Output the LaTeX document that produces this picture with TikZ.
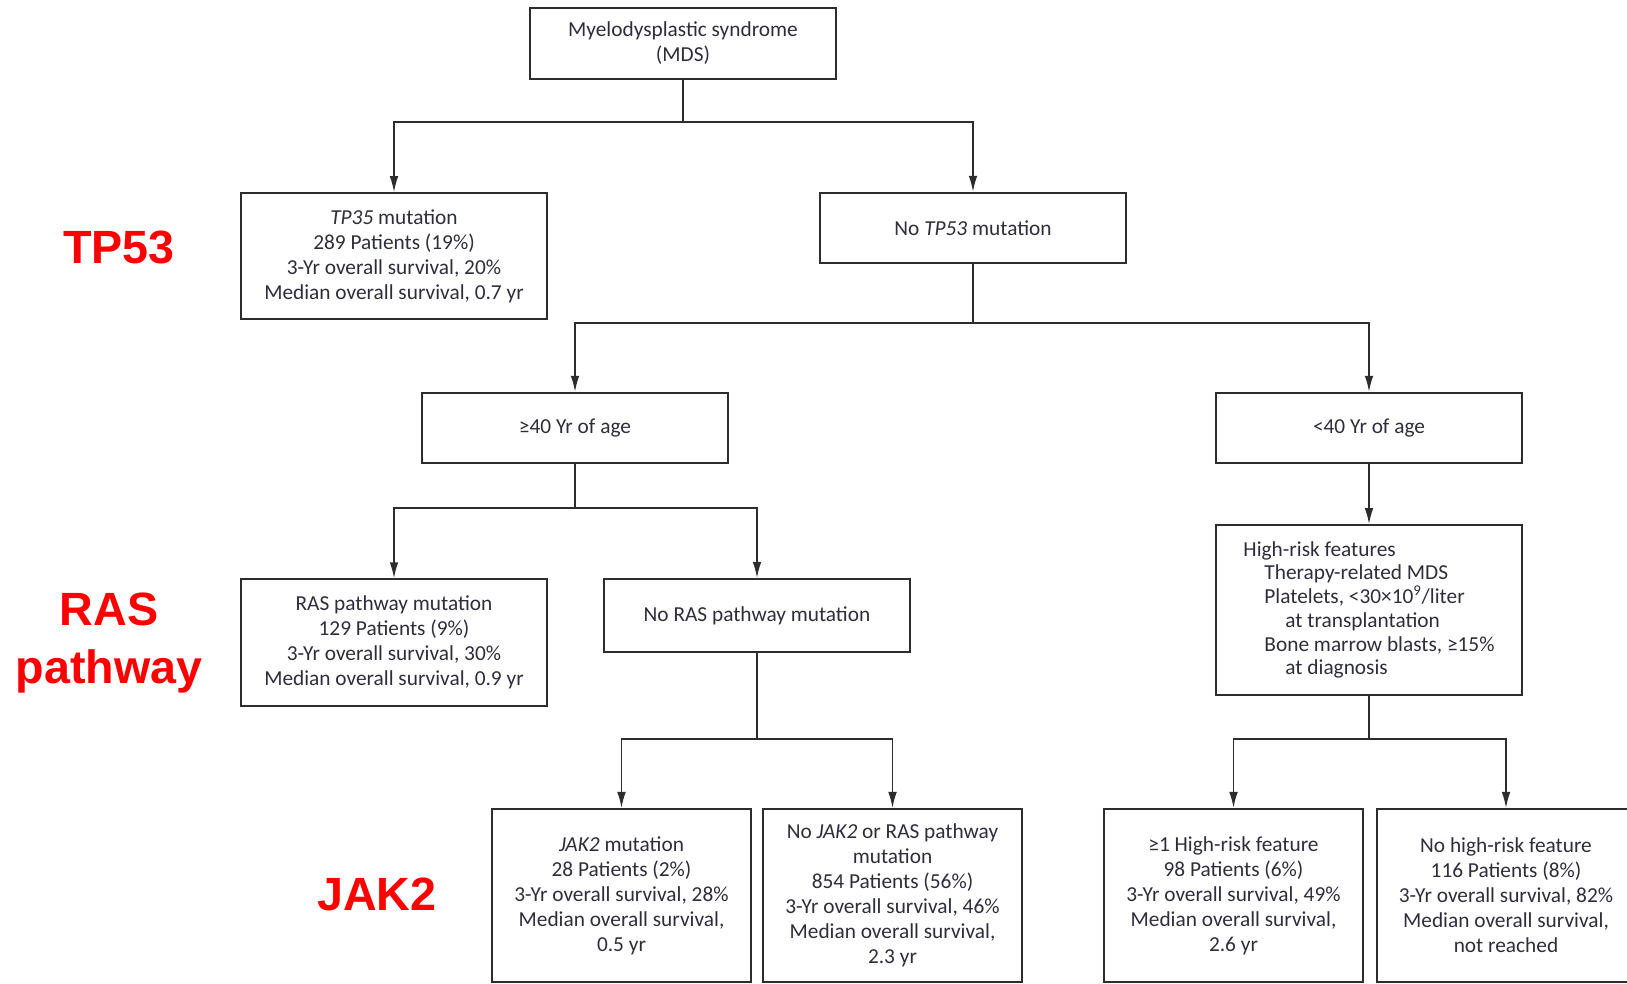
\documentclass[tikz,border=0pt]{standalone}
\usepackage{fontspec}
\setmainfont{Carlito}
\newfontfamily\labelfont{Liberation Sans}
\usetikzlibrary{arrows.meta}

\definecolor{boxline}{RGB}{45,45,45}
\definecolor{boxtext}{RGB}{45,45,60}
\definecolor{tagred}{RGB}{255,0,0}

\tikzset{
  box/.style={draw=boxline, line width=1.3pt, align=center, inner sep=0pt, text=boxtext,
    minimum width=229.5pt, minimum height=53pt, font=\fontsize{16pt}{18.75pt}\selectfont},
  leafbox/.style={box, minimum width=194pt, minimum height=130pt},
  tag/.style={text=tagred, align=center, font=\labelfont\bfseries\fontsize{35pt}{43pt}\selectfont},
  link/.style={draw=boxline, line width=1.2pt},
  arr/.style={link, -{Latex[length=12pt,width=6.5pt]}}
}

\begin{document}
\begin{tikzpicture}[x=0.75pt,y=0.75pt,yscale=-1,xscale=1]
\useasboundingbox (0,0) rectangle (1627,983);

%Shape: Rectangle [top]
\node (mds) at (683,43.5) [box] {Myelodysplastic syndrome\\(MDS)};
%Shape: Rectangle [first split]
\node (tpyes) at (394,256) [box, minimum height=94.5pt] {\textit{TP35} mutation\\289 Patients (19\%)\\3-Yr overall survival, 20\%\\Median overall survival, 0.7 yr};
\node (tpno) at (973,228) [box] {No \textit{TP53} mutation};
%Shape: Rectangle [age split]
\node (old) at (575,428) [box] {≥40 Yr of age};
\node (young) at (1369,428) [box] {<40 Yr of age};
%Shape: Rectangle [RAS split]
\node (rasyes) at (394,642.5) [box, minimum height=95pt] {RAS pathway mutation\\129 Patients (9\%)\\3-Yr overall survival, 30\%\\Median overall survival, 0.9 yr};
\node (rasno) at (757,615.5) [box, minimum height=55pt] {No RAS pathway mutation};
%Shape: Rectangle [high-risk list]
\node (risk) at (1369,610) [box, minimum height=127.5pt, align=left, font=\fontsize{16pt}{17.8pt}\selectfont]
  {High-risk features\\
   \hspace*{15.75pt}Therapy-related MDS\\
   \hspace*{15.75pt}Platelets, <30×10\textsuperscript{9}/liter\\
   \hspace*{31.5pt}at transplantation\\
   \hspace*{15.75pt}Bone marrow blasts, ≥15\%\\
   \hspace*{31.5pt}at diagnosis};
%Shape: Rectangle [leaves]
\node (jakyes) at (621.5,895.5) [leafbox] {\textit{JAK2} mutation\\28 Patients (2\%)\\3-Yr overall survival, 28\%\\Median overall survival,\\0.5 yr};
\node (jakno) at (892.5,895.5) [leafbox] {No \textit{JAK2} or RAS pathway\\mutation\\854 Patients (56\%)\\3-Yr overall survival, 46\%\\Median overall survival,\\2.3 yr};
\node (riskyes) at (1233.5,895.5) [leafbox] {≥1 High-risk feature\\98 Patients (6\%)\\3-Yr overall survival, 49\%\\Median overall survival,\\2.6 yr};
\node (riskno) at (1506,895.5) [leafbox] {No high-risk feature\\116 Patients (8\%)\\3-Yr overall survival, 82\%\\Median overall survival,\\not reached};

% Text Node [gene tags]
\node (tagtp) at (119,247) [tag] {TP53};
\node (tagras) at (109,643) [tag] {RAS\\pathway};
\node (tagjak) at (377,894) [tag] {JAK2};

%Straight Lines [branch points]
\coordinate (splitmds) at (683,122);
\coordinate (splittp) at (973,323);
\coordinate (splitage) at (575,508);
\coordinate (splitras) at (757,739);
\coordinate (splitrisk) at (1369,739);

\draw [link] (mds.south) -- (splitmds);
\draw [arr] (splitmds) -| (tpyes.north);
\draw [arr] (splitmds) -| (tpno.north);

\draw [link] (tpno.south) -- (splittp);
\draw [arr] (splittp) -| (old.north);
\draw [arr] (splittp) -| (young.north);

\draw [link] (old.south) -- (splitage);
\draw [arr] (splitage) -| (rasyes.north);
\draw [arr] (splitage) -| (rasno.north);

\draw [arr] (young.south) -- (risk.north);

\draw [link] (rasno.south) -- (splitras);
\draw [arr] (splitras) -| (jakyes.north);
\draw [arr] (splitras) -| (jakno.north);

\draw [link] (risk.south) -- (splitrisk);
\draw [arr] (splitrisk) -| (riskyes.north);
\draw [arr] (splitrisk) -| (riskno.north);

\end{tikzpicture}
\end{document}
